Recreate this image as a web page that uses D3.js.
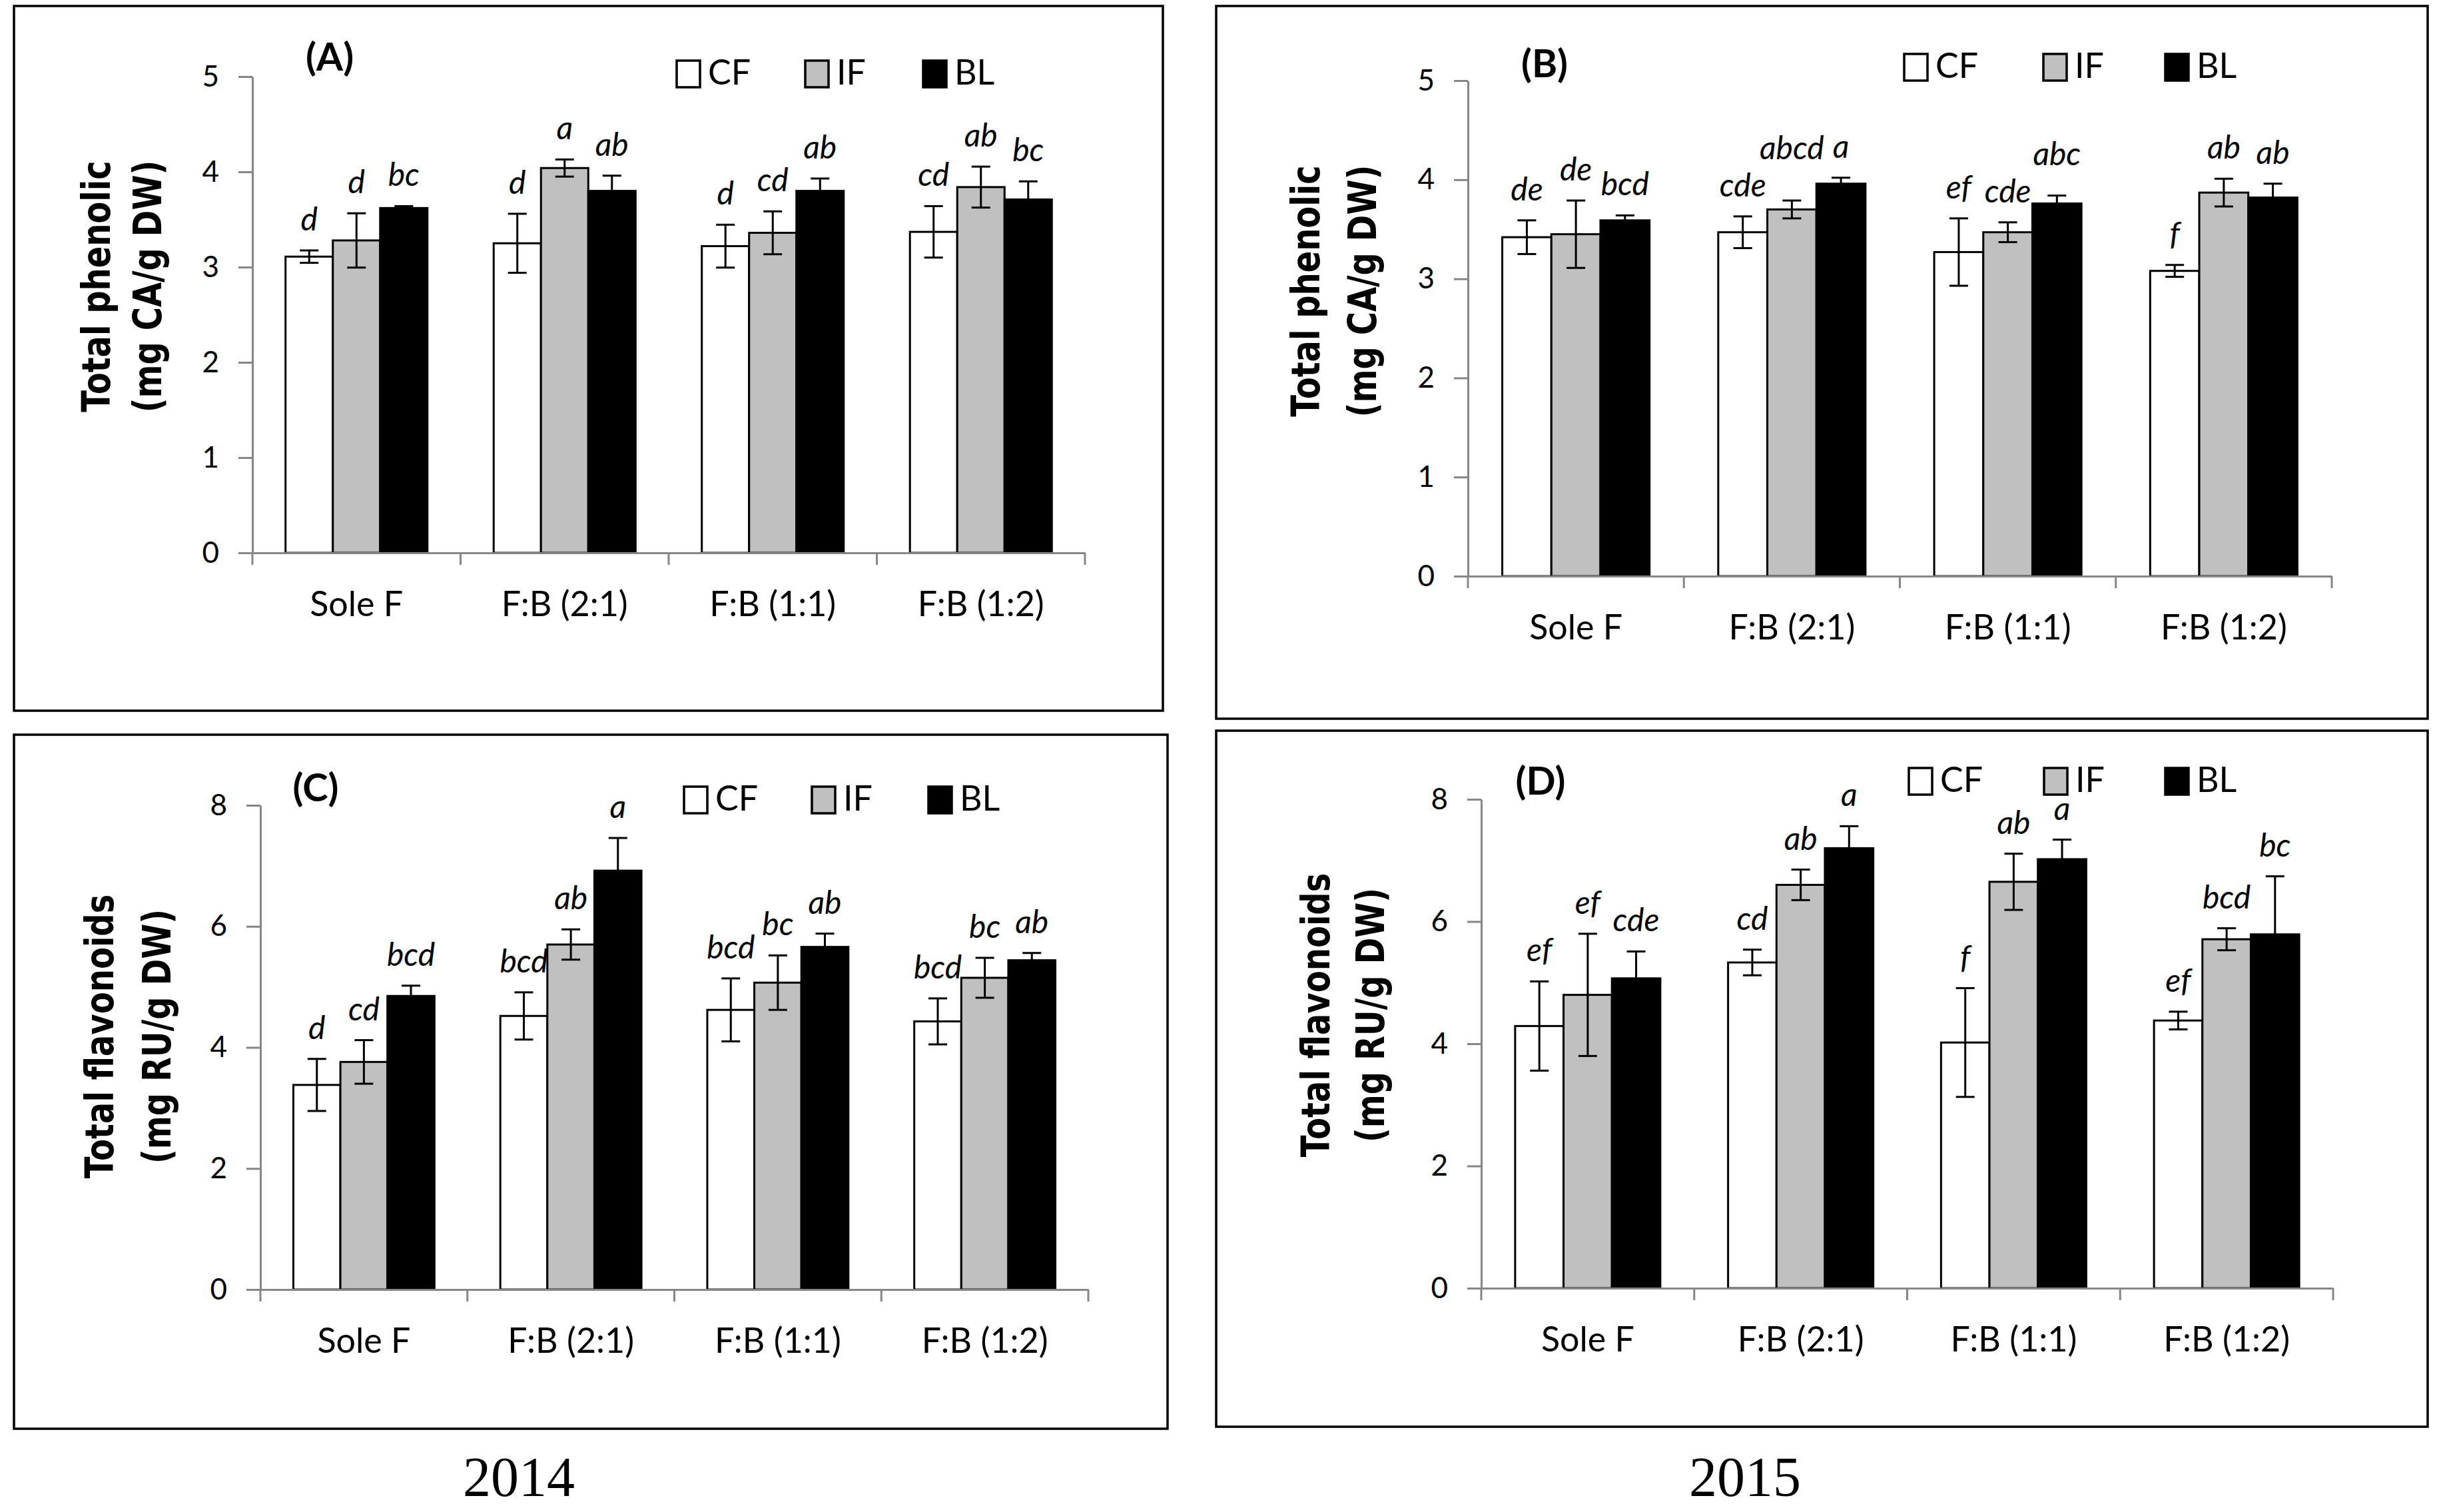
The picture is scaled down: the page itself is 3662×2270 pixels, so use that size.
<html>
<head>
    <script src="https://d3js.org/d3.v7.min.js"></script>
</head>
<body style="margin:0; background:white">
    <svg id="fig" width="3662" height="2270" font-family="Lato, 'Open Sans', sans-serif"></svg>
</body>
<script>

    // ---- data ----
    const categories = ['Sole F', 'F:B (2:1)', 'F:B (1:1)', 'F:B (1:2)'];
    const seriesNames = ['CF', 'IF', 'BL'];

    const phenolicTicks = [0, 1, 2, 3, 4, 5];
    const flavonoidTicks = [0, 2, 4, 6, 8];

    const phenolicTitle = ['Total phenolic', '(mg CA/g DW)'];
    const flavonoidTitle = ['Total flavonoids', '(mg RU/g DW)'];

    // (A) total phenolic 2014 - rows = categories, cols = CF, IF, BL
    const phenolic2014Mean = [[3.11, 3.28, 3.62], [3.25, 4.04, 3.80], [3.22, 3.36, 3.80], [3.37, 3.84, 3.71]];
    const phenolic2014Err = [[0.065, 0.285, 0.02], [0.31, 0.09, 0.16], [0.225, 0.225, 0.13], [0.27, 0.215, 0.19]];
    const phenolic2014Letters = [['d', 'd', 'bc'], ['d', 'a', 'ab'], ['d', 'cd', 'ab'], ['cd', 'ab', 'bc']];

    // (B) total phenolic 2015
    const phenolic2015Mean = [[3.42, 3.45, 3.59], [3.47, 3.70, 3.96], [3.27, 3.47, 3.76], [3.08, 3.87, 3.82]];
    const phenolic2015Err = [[0.17, 0.34, 0.05], [0.16, 0.09, 0.06], [0.34, 0.10, 0.08], [0.06, 0.14, 0.14]];
    const phenolic2015Letters = [['de', 'de', 'bcd'], ['cde', 'abcd', 'a'], ['ef', 'cde', 'abc'], ['f', 'ab', 'ab']];

    // (C) total flavonoids 2014
    const flavonoid2014Mean = [[3.38, 3.76, 4.85], [4.52, 5.70, 6.92], [4.62, 5.07, 5.66], [4.43, 5.15, 5.44]];
    const flavonoid2014Err = [[0.43, 0.36, 0.17], [0.39, 0.25, 0.54], [0.52, 0.45, 0.22], [0.38, 0.33, 0.12]];
    const flavonoid2014Letters = [['d', 'cd', 'bcd'], ['bcd', 'ab', 'a'], ['bcd', 'bc', 'ab'], ['bcd', 'bc', 'ab']];

    // (D) total flavonoids 2015
    const flavonoid2015Mean = [[4.29, 4.80, 5.07], [5.33, 6.60, 7.20], [4.02, 6.65, 7.02], [4.38, 5.71, 5.79]];
    const flavonoid2015Err = [[0.73, 1.00, 0.44], [0.21, 0.25, 0.36], [0.89, 0.46, 0.32], [0.145, 0.18, 0.95]];
    const flavonoid2015Letters = [['ef', 'ef', 'cde'], ['cd', 'ab', 'a'], ['f', 'ab', 'a'], ['ef', 'bcd', 'bc']];

    const yearLabels = ['2014', '2015'];

    // ---- layout of the four boxes ----
    const panels = [
        {tag: '(A)', mean: phenolic2014Mean, err: phenolic2014Err, letters: phenolic2014Letters,
         ticks: phenolicTicks, title: phenolicTitle,
         box: [21, 9, 1746, 1067], xr: [379, 1629], yr: [830, 115], tagPos: [495, 106],
         legendX: [1016, 1209, 1386], legendY: 91, titleX: [165, 242], titleY: 430},
        {tag: '(B)', mean: phenolic2015Mean, err: phenolic2015Err, letters: phenolic2015Letters,
         ticks: phenolicTicks, title: phenolicTitle,
         box: [1826, 9, 3645, 1079], xr: [2204, 3501], yr: [865, 121], tagPos: [2319, 116],
         legendX: [2859, 3068, 3251], legendY: 81, titleX: [1981, 2066], titleY: 437},
        {tag: '(C)', mean: flavonoid2014Mean, err: flavonoid2014Err, letters: flavonoid2014Letters,
         ticks: flavonoidTicks, title: flavonoidTitle,
         box: [21, 1103, 1753, 2145], xr: [391, 1634], yr: [1936, 1209], tagPos: [474, 1203],
         legendX: [1027, 1219, 1394], legendY: 1181, titleX: [170, 256], titleY: 1556},
        {tag: '(D)', mean: flavonoid2015Mean, err: flavonoid2015Err, letters: flavonoid2015Letters,
         ticks: flavonoidTicks, title: flavonoidTitle,
         box: [1826, 1097, 3645, 2142], xr: [2224, 3503], yr: [1934, 1200], tagPos: [2313, 1193],
         legendX: [2866, 3069, 3251], legendY: 1153, titleX: [1996, 2078], titleY: 1524}
    ];

    const axisGrey = '#868686';
    const fillColour = d3.scaleOrdinal().domain(seriesNames).range(['#ffffff', '#c0c0c0', '#000000']);

    const svg = d3.select('svg#fig');
    svg.append('rect').attr('width', 3662).attr('height', 2270).attr('fill', 'white');

    function drawPanel(p) {
        const g = svg.append('g');

        g.append('rect')
            .attr('x', p.box[0]).attr('y', p.box[1])
            .attr('width', p.box[2] - p.box[0]).attr('height', p.box[3] - p.box[1])
            .attr('fill', 'none').attr('stroke', 'black').attr('stroke-width', 3.5);

        const x0 = d3.scaleBand().domain(categories).range(p.xr);
        const x1 = d3.scaleBand().domain(seriesNames).range([0, x0.bandwidth()]).paddingOuter(0.7);
        const y = d3.scaleLinear().domain([0, d3.max(p.ticks)]).range(p.yr);

        const rows = categories.flatMap((c, i) => seriesNames.map((s, j) => ({
            c: c, s: s, v: p.mean[i][j], e: p.err[i][j], l: p.letters[i][j]
        })));

        const bars = g.selectAll('g.bar')
            .data(rows)
            .join('g')
            .attr('class', 'bar')
            .attr('transform', d => `translate(${x0(d.c) + x1(d.s)},0)`);

        bars.append('rect')
            .attr('x', 0)
            .attr('y', d => y(d.v))
            .attr('width', x1.bandwidth())
            .attr('height', d => y(0) - y(d.v))
            .attr('fill', d => fillColour(d.s))
            .attr('stroke', 'black')
            .attr('stroke-width', 3);

        // error bars
        const cx = x1.bandwidth() / 2;
        bars.append('line')
            .attr('x1', cx).attr('x2', cx)
            .attr('y1', d => y(d.v - d.e)).attr('y2', d => y(d.v + d.e))
            .attr('stroke', 'black').attr('stroke-width', 3);
        bars.selectAll('line.cap')
            .data(d => [d.v - d.e, d.v + d.e])
            .join('line')
            .attr('class', 'cap')
            .attr('x1', cx - 14).attr('x2', cx + 14)
            .attr('y1', d => y(d)).attr('y2', d => y(d))
            .attr('stroke', 'black').attr('stroke-width', 3);

        // significance letters
        const letters = bars.append('text')
            .attr('class', 'sig')
            .attr('x', cx)
            .attr('y', d => y(d.v + d.e) - 30)
            .attr('text-anchor', 'middle')
            .attr('font-style', 'italic')
            .attr('font-size', 48)
            .text(d => d.l);

        // lift a letter group when it would run into its left neighbour
        const nodes = letters.nodes();
        for (let i = 0; i < nodes.length; i++) {
            if (i % seriesNames.length === 0) continue;
            const prev = nodes[i - 1], cur = nodes[i];
            const off = x1.step();
            const a = prev.getBBox(), b = cur.getBBox();
            const hOverlap = (a.x + a.width + 4) > (b.x + off);
            const vOverlap = Math.abs(a.y - b.y) < a.height * 0.8;
            if (hOverlap && vOverlap) {
                d3.select(cur).attr('y', +d3.select(prev).attr('y') - 56);
            }
        }

        // y axis
        const ya = g.append('g')
            .attr('transform', `translate(${p.xr[0]},0)`)
            .call(d3.axisLeft(y).tickValues(p.ticks).tickFormat(d3.format('d'))
                .tickSize(21).tickSizeOuter(0).tickPadding(29));
        ya.select('.domain').attr('stroke', axisGrey).attr('stroke-width', 3);
        ya.selectAll('.tick line').attr('stroke', axisGrey).attr('stroke-width', 3);
        ya.selectAll('.tick text').attr('font-size', 44).attr('font-family', 'Lato').attr('fill', 'black');

        // x axis: labels centred in band, ticks on band edges
        const xa = g.append('g')
            .attr('transform', `translate(0,${p.yr[0]})`)
            .call(d3.axisBottom(x0).tickSize(0).tickSizeOuter(0).tickPadding(58));
        xa.select('.domain').attr('stroke', axisGrey).attr('stroke-width', 3);
        xa.selectAll('.tick text').attr('font-size', 52).attr('font-family', 'Lato').attr('fill', 'black');

        const edges = categories.map(c => x0(c)).concat([x0(categories[categories.length - 1]) + x0.bandwidth()]);
        xa.selectAll('line.edge')
            .data(edges)
            .join('line')
            .attr('class', 'edge')
            .attr('x1', d => d).attr('x2', d => d)
            .attr('y1', 0).attr('y2', 18)
            .attr('stroke', axisGrey).attr('stroke-width', 3);

        // y title, two heavy lines
        p.title.forEach((t, k) => {
            g.append('text')
                .attr('transform', `translate(${p.titleX[k]},${p.titleY}) rotate(-90) scale(1,1.22)`)
                .attr('text-anchor', 'middle')
                .attr('font-family', '"DejaVu Sans", "Liberation Sans", sans-serif')
                .attr('font-weight', 'bold')
                .attr('font-size', 48)
                .text(t);
        });

        // panel tag
        g.append('text')
            .attr('x', p.tagPos[0]).attr('y', p.tagPos[1])
            .attr('text-anchor', 'middle')
            .attr('font-weight', 'bold')
            .attr('font-size', 58)
            .text(p.tag);

        // legend
        const leg = g.selectAll('g.legend')
            .data(seriesNames)
            .join('g')
            .attr('class', 'legend')
            .attr('transform', (d, j) => `translate(${p.legendX[j]},${p.legendY})`);
        leg.append('rect')
            .attr('width', 35).attr('height', 40)
            .attr('fill', d => fillColour(d))
            .attr('stroke', 'black').attr('stroke-width', 3.5);
        leg.append('text')
            .attr('x', 47).attr('y', 36)
            .attr('font-size', 52)
            .text(d => d);
    }

    panels.forEach(drawPanel);

    // years under the two columns
    svg.selectAll('text.year')
        .data(yearLabels)
        .join('text')
        .attr('class', 'year')
        .attr('x', (d, i) => [779, 2620][i])
        .attr('y', 2246)
        .attr('text-anchor', 'middle')
        .attr('font-family', '"Liberation Serif", "Times New Roman", serif')
        .attr('font-size', 84)
        .text(d => d);

</script>
</html>
